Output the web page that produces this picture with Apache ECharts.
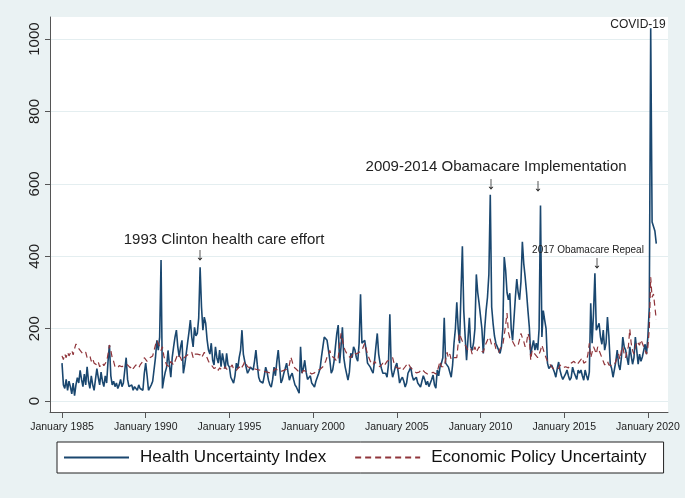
<!DOCTYPE html>
<html><head><meta charset="utf-8">
<script src="https://cdn.jsdelivr.net/npm/echarts@6/dist/echarts.min.js"></script>
<style>html,body{margin:0;padding:0;background:#eaf2f3}#c{width:685px;height:498px}</style>
</head><body><div id="c"></div>
<script>
const startYear = 1985;
// Monthly values, Jan 1985 .. Jul 2020 (one row per year)
const health = [
105,45,35,60,30,55,40,20,50,15,45,65,
50,85,60,40,75,45,95,55,35,70,45,30,
60,90,65,45,80,55,40,70,50,110,155,70,
45,55,40,50,35,45,60,40,50,45,120,60,
40,35,45,30,40,35,30,45,35,40,30,77,
105,70,30,25,45,55,60,120,168,141,177,390,
35,60,80,94,140,100,66,120,150,177,196,150,
122,150,168,77,100,130,160,190,224,177,150,204,
180,187,230,370,260,196,232,215,170,141,130,160,
113,100,150,120,105,141,95,132,110,90,132,100,
94,66,58,50,70,105,90,120,140,196,130,110,
105,77,85,94,90,86,110,141,100,66,55,50,
50,70,94,80,58,45,39,60,94,70,110,141,
141,50,60,77,90,105,80,58,70,77,60,45,
39,30,22,150,77,90,113,80,60,58,70,50,
45,39,55,60,77,90,122,150,177,182,168,141,
113,77,86,110,150,187,210,105,150,204,120,94,
94,58,80,132,120,150,141,120,110,160,295,160,
160,168,140,105,100,94,85,77,110,150,187,130,
105,90,77,80,77,66,100,240,90,66,80,95,
105,80,50,60,66,55,39,50,77,85,94,70,
58,62,66,50,45,39,55,70,60,45,55,40,
39,60,72,45,36,86,70,95,105,120,230,105,
105,94,80,66,100,160,200,273,200,160,300,428,
250,177,113,170,230,150,140,160,200,350,300,270,
270,200,132,200,250,287,350,570,260,215,180,160,
160,141,132,150,200,398,362,300,280,298,200,168,
168,287,337,300,280,330,440,380,343,300,250,204,
127,150,168,141,160,141,200,540,177,250,224,200,
105,90,86,100,105,80,66,90,108,85,70,60,
58,75,86,70,58,65,94,80,77,60,86,77,
86,70,58,86,70,58,80,270,160,243,353,196,
196,215,177,157,196,141,160,232,180,102,90,66,
66,110,141,100,86,120,177,150,141,120,100,150,
150,102,120,177,140,102,130,110,122,140,157,130,
180,260,1030,495,490,470,435
];
const epu = [
125,115,130,120,135,125,130,140,128,145,158,150,
155,140,145,130,125,135,120,115,125,110,118,105,
110,100,108,95,100,105,98,95,110,130,155,140,
120,110,95,100,92,98,100,95,90,100,105,100,
95,92,98,90,95,100,96,92,100,105,110,120,
125,110,115,120,118,125,130,155,168,160,150,140,
150,125,110,100,105,95,110,115,100,110,120,130,
125,120,110,118,115,125,120,130,125,135,120,130,
135,130,125,128,120,127,135,130,120,110,105,100,
95,90,86,95,85,92,88,85,90,95,88,92,
90,95,100,88,92,85,90,95,88,92,100,110,
105,95,100,92,88,90,95,88,92,86,90,85,
88,82,86,80,85,78,82,80,85,90,88,84,
80,82,78,85,80,88,85,100,122,110,95,90,
88,85,80,82,78,85,80,82,85,80,78,75,
80,78,82,85,80,88,90,95,100,110,122,130,
140,125,130,120,115,110,120,125,187,170,150,140,
135,125,130,120,125,135,140,130,125,135,130,140,
150,160,155,130,120,110,105,100,110,105,100,98,
95,100,105,98,100,110,105,115,110,120,105,95,
95,90,88,92,85,88,95,90,105,100,92,88,
85,80,78,75,80,82,88,85,80,78,75,72,
75,72,80,78,75,82,85,110,95,90,95,115,
135,120,130,115,110,120,125,120,160,187,175,165,
170,155,160,140,135,145,130,140,150,135,140,150,
140,145,135,150,160,165,177,170,155,150,160,145,
140,135,145,150,155,160,210,243,190,175,180,165,
160,150,145,155,170,187,175,165,150,160,187,175,
113,140,135,130,125,120,130,140,155,160,130,120,
110,105,100,95,90,88,92,95,90,100,95,92,
90,95,100,92,98,105,100,110,105,100,95,110,
115,120,105,100,110,130,160,120,125,150,141,130,
150,140,130,120,110,100,95,110,100,105,98,95,
100,110,120,130,115,140,150,130,120,140,150,199,
160,140,130,150,165,170,155,170,160,150,140,130,
150,200,342,287,296,260,225
];
const yTicks = [0, 200, 400, 600, 800, 1000];
const xTicks = [1985, 1990, 1995, 2000, 2005, 2010, 2015, 2020];
const notes = [
  {text: 'COVID-19', x: 2019.41, y: 1041, size: 12},
  {text: '1993 Clinton health care effort', x: 1994.68, y: 445, size: 15},
  {text: '2009-2014 Obamacare Implementation', x: 2010.93, y: 646, size: 15},
  {text: '2017 Obamacare Repeal', x: 2016.42, y: 417, size: 10}
];
const arrows = [
  {x: 1993.24, y: 403}, {x: 2010.63, y: 601}, {x: 2013.43, y: 595}, {x: 2016.96, y: 382}
];

const FONT = "'Liberation Sans', Arial, Helvetica, sans-serif";
const toXY = arr => arr.map((v, i) => [startYear + i / 12, v]);

const chart = echarts.init(document.getElementById('c'), null, {renderer: 'canvas'});
chart.setOption({
  animation: false,
  backgroundColor: '#eaf2f3',
  textStyle: {fontFamily: FONT},
  grid: {left: 50, right: 17, top: 17, bottom: 86, show: true, backgroundColor: '#ffffff', borderWidth: 0},
  legend: {
    left: 57, top: 442, itemWidth: 65, itemHeight: 14, itemGap: 28,
    padding: [7, 17, 7, 6], backgroundColor: '#ffffff', borderColor: '#222', borderWidth: 1,
    borderRadius: 0,
    itemStyle: {opacity: 0},
    textStyle: {fontSize: 17, color: '#111', fontFamily: FONT, padding: [0, 0, 0, 6]},
    data: ['Health Uncertainty Index', 'Economic Policy Uncertainty']
  },
  xAxis: {
    type: 'value', min: 1984.283, max: 2021.2,
    axisLine: {show: true, onZero: false, lineStyle: {color: '#555', width: 1}},
    axisTick: {show: true, customValues: xTicks, length: 6, lineStyle: {color: '#555'}},
    axisLabel: {customValues: xTicks, formatter: v => 'January ' + v, fontSize: 10.5, color: '#222', margin: 10, fontFamily: FONT},
    splitLine: {show: false}
  },
  yAxis: {
    type: 'value', min: -30, max: 1061,
    axisLine: {show: true, onZero: false, lineStyle: {color: '#555', width: 1}},
    axisTick: {show: true, customValues: yTicks, length: 5, lineStyle: {color: '#555'}},
    axisLabel: {customValues: yTicks, rotate: 90, fontSize: 15, color: '#222', margin: 8, fontFamily: FONT,
      formatter: v => String(v)},
    splitLine: {show: true, lineStyle: {color: '#e4eef0', width: 1}}
  },
  series: [
    {
      type: 'line', name: 'Health Uncertainty Index', data: toXY(health),
      symbol: 'none', lineStyle: {color: '#1a476f', width: 1.6}, itemStyle: {color: '#1a476f'},
      z: 2,
      markPoint: {
        symbol: 'circle', symbolSize: 0, silent: true,
        data: notes.map(n => ({
          coord: [n.x, n.y], itemStyle: {color: 'transparent'},
          label: {show: true, position: 'inside', formatter: n.text, fontSize: n.size, color: '#222', fontFamily: FONT}
        })).concat(arrows.map(a => ({
          coord: [a.x, a.y], itemStyle: {color: 'transparent'},
          label: {show: true, position: 'inside', formatter: '\u2193', fontSize: 18, color: '#222', fontFamily: FONT}
        })))
      }
    },
    {
      type: 'line', name: 'Economic Policy Uncertainty', data: toXY(epu),
      symbol: 'none', lineStyle: {color: '#90353b', width: 1.2, type: [6, 4]}, itemStyle: {color: '#90353b'},
      z: 3
    }
  ]
});
</script></body></html>
